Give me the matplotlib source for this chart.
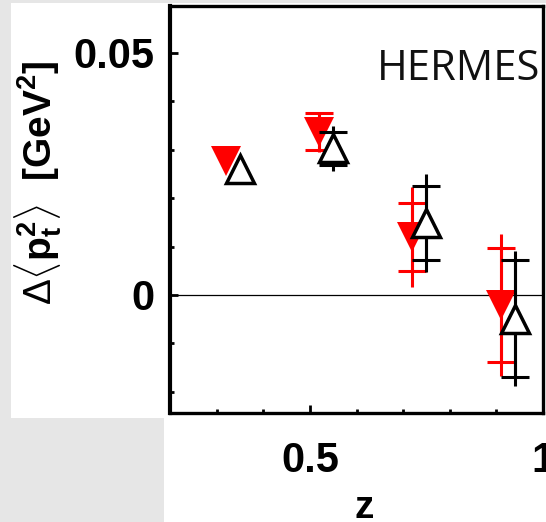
import matplotlib
matplotlib.use("Agg")
import matplotlib.pyplot as plt
import numpy as np
from matplotlib.patches import Rectangle
from matplotlib.ticker import FixedLocator, FixedFormatter, MultipleLocator

# Δ<pT^2> vs z, two hadron samples (first-bin uncertainties lie inside the markers)
z_red = [0.32, 0.52, 0.72, 0.91]
dpt_red = [0.0277, 0.0337, 0.0120, -0.0021]
stat_red = [0.0, 0.0038, 0.0070, 0.0118]
tot_red = [0.0, 0.0042, 0.0103, 0.0147]

z_black = [0.35, 0.55, 0.75, 0.94]
dpt_black = [0.0260, 0.0303, 0.0149, -0.0049]
stat_black = [0.0, 0.0034, 0.0076, 0.0121]
tot_black = [0.0, 0.0047, 0.0101, 0.0139]

x_ticks = [0.5, 1.0]
x_ticklabels = ["0.5", "1"]
y_ticks = [0.0, 0.05]
y_ticklabels = ["0", "0.05"]

W, H = 546, 522
plt.rcParams["mathtext.fontset"] = "custom"
plt.rcParams["mathtext.rm"] = "Liberation Sans"
plt.rcParams["mathtext.bf"] = "Liberation Sans:bold"
plt.rcParams["mathtext.it"] = "Liberation Sans:italic"

fig = plt.figure(figsize=(W / 100, H / 100), dpi=100)
fig.patch.set_facecolor("#e6e6e6")


def px_rect(x0, y0, x1, y1):
    return Rectangle((x0 / W, 1 - y1 / H), (x1 - x0) / W, (y1 - y0) / H,
                     transform=fig.transFigure, facecolor="white",
                     edgecolor="none", zorder=0)


fig.add_artist(px_rect(11, 3, W, 418))
fig.add_artist(px_rect(164, 418, W, H))

ax = fig.add_axes([170 / W, 1 - 413 / H, (543 - 170) / W, (413 - 6) / H])
ax.set_facecolor("white")
ax.set_xlim(0.2, 1.0)
ax.set_ylim(-0.0244, 0.0597)

ax.axhline(0, color="black", lw=0.9, zorder=1)


def draw_series(z, y, stat, tot, color, marker, face, edge, mew, ms, zb):
    z, y = np.asarray(z), np.asarray(y)
    stat, tot = np.asarray(stat), np.asarray(tot)
    has_err = stat > 0
    # total uncertainty: plain line
    ax.errorbar(z[has_err], y[has_err], yerr=tot[has_err], fmt="none",
                ecolor=color, elinewidth=2.2, capsize=0, zorder=zb)
    # statistical uncertainty: capped
    ax.errorbar(z[has_err], y[has_err], yerr=stat[has_err], fmt="none",
                ecolor=color, elinewidth=2.2, capsize=10, capthick=2.2,
                zorder=zb)
    ax.plot(z, y, linestyle="none", marker=marker, markersize=ms,
            markerfacecolor=face, markeredgecolor=edge, markeredgewidth=mew,
            zorder=zb + 1)


draw_series(z_red, dpt_red, stat_red, tot_red, "#ff0000", "v",
            "#ff0000", "none", 0, 21, 3)
draw_series(z_black, dpt_black, stat_black, tot_black, "black", "^",
            "white", "black", 2.5, 20, 5)

for side in ["left", "bottom", "top", "right"]:
    ax.spines[side].set_linewidth(2.4)
ax.spines["left"].set_linewidth(3)

ax.xaxis.set_major_locator(FixedLocator(x_ticks))
ax.xaxis.set_major_formatter(FixedFormatter(x_ticklabels))
ax.xaxis.set_minor_locator(MultipleLocator(0.1))
ax.yaxis.set_major_locator(FixedLocator(y_ticks))
ax.yaxis.set_major_formatter(FixedFormatter(y_ticklabels))
ax.yaxis.set_minor_locator(MultipleLocator(0.01))

ax.tick_params(which="both", direction="in", top=False, right=False, width=2)
ax.tick_params(which="major", length=6)
ax.tick_params(which="minor", length=3)
ax.tick_params(axis="x", which="major", pad=20)
ax.tick_params(axis="y", which="major", pad=11)
for lab in ax.get_xticklabels() + ax.get_yticklabels():
    lab.set_fontfamily("Liberation Sans")
    lab.set_fontweight("bold")
    lab.set_fontsize(30)

ax.set_xlabel("z", fontfamily="Liberation Sans", fontweight="bold",
              fontsize=28, va="baseline")
ax.xaxis.set_label_coords(0.52, (413 - 518) / 407)
ax.set_ylabel(r"$\Delta\langle\mathbf{p}_\mathbf{t}^\mathbf{2}\rangle$  [GeV$^\mathbf{2}$]",
              fontfamily="Liberation Sans", fontweight="bold", fontsize=28)
ax.yaxis.set_label_coords(-0.285, 0.565)

ax.text(0.555, 0.818, "HERMES", transform=ax.transAxes, fontfamily="Open Sans",
        fontsize=30, color="#111111", ha="left", va="baseline")

fig.savefig("out.png", dpi=100, facecolor=fig.get_facecolor())
